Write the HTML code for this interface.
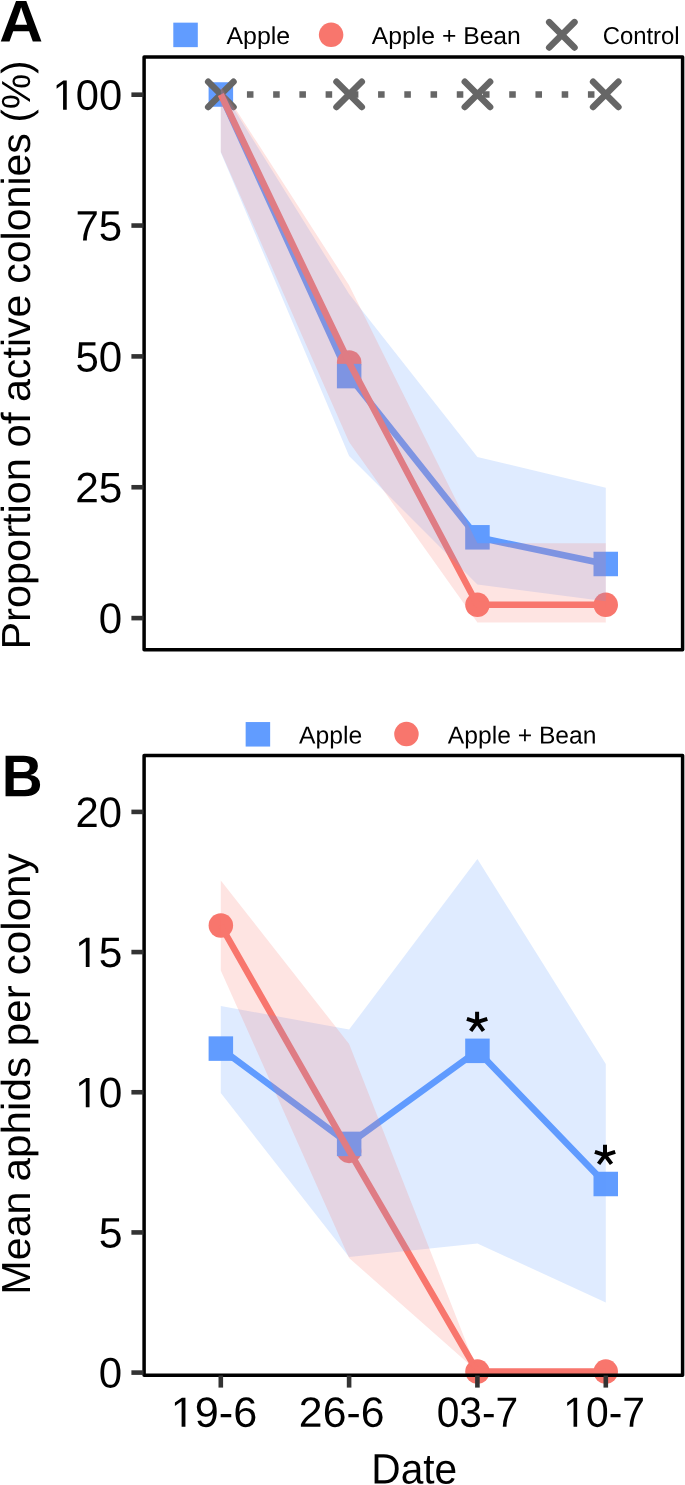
<!DOCTYPE html><html><head><meta charset="utf-8"><title>Figure</title>
<style>html,body{margin:0;padding:0;background:#fff;}svg{display:block;will-change:transform;}text{font-family:"Liberation Sans",sans-serif;fill:#000;text-rendering:geometricPrecision;}</style></head><body>
<svg width="685" height="1485" viewBox="0 0 685 1485">
<rect width="685" height="1485" fill="#fff"/>
<path d="M220.7,94.50 L605.75,94.50" stroke="#666666" stroke-width="6.5" stroke-dasharray="6.55 19.68" fill="none"/>
<path d="M220.8,94.5 L349.1,376.1 L477.4,537.3 L605.8,564.0" fill="none" stroke="#619CFF" stroke-width="6.5" stroke-linejoin="round"/>
<circle cx="349.15" cy="362.48" r="12.25" fill="#F8766D"/>
<circle cx="477.45" cy="604.81" r="12.25" fill="#F8766D"/>
<circle cx="605.75" cy="604.81" r="12.25" fill="#F8766D"/>
<rect x="208.60" y="82.25" width="24.5" height="24.5" fill="#619CFF"/>
<rect x="336.90" y="363.84" width="24.5" height="24.5" fill="#619CFF"/>
<rect x="465.20" y="525.05" width="24.5" height="24.5" fill="#619CFF"/>
<rect x="593.50" y="551.74" width="24.5" height="24.5" fill="#619CFF"/>
<path d="M208.20,81.75 L233.50,107.05 M208.20,107.05 L233.50,81.75" stroke="#666666" stroke-width="6.5" stroke-linecap="round" fill="none"/>
<path d="M336.50,81.75 L361.80,107.05 M336.50,107.05 L361.80,81.75" stroke="#666666" stroke-width="6.5" stroke-linecap="round" fill="none"/>
<path d="M464.80,81.75 L490.10,107.05 M464.80,107.05 L490.10,81.75" stroke="#666666" stroke-width="6.5" stroke-linecap="round" fill="none"/>
<path d="M593.10,81.75 L618.40,107.05 M593.10,107.05 L618.40,81.75" stroke="#666666" stroke-width="6.5" stroke-linecap="round" fill="none"/>
<path d="M220.8,94.5 L349.1,362.5 L477.4,604.8 L605.8,604.8" fill="none" stroke="#F8766D" stroke-width="6.5" stroke-linejoin="round"/>
<path d="M220.8,88.0 L349.1,294.0 L477.4,456.9 L605.8,487.8 L605.8,601.3 L477.4,584.5 L349.1,455.9 L220.8,152.6Z" fill="#619CFF" fill-opacity="0.2"/>
<path d="M220.8,86.0 L349.1,285.3 L477.4,543.2 L605.8,543.2 L605.8,622.4 L477.4,622.4 L349.1,442.0 L220.8,151.7Z" fill="#F8766D" fill-opacity="0.2"/>
<rect x="144.1" y="57.1" width="538.5" height="592.6" fill="none" stroke="#000" stroke-width="3.5" stroke-linejoin="round"/>
<path d="M131.4,618.10 H143.5" stroke="#333" stroke-width="4.6"/>
<path d="M131.4,487.25 H143.5" stroke="#333" stroke-width="4.6"/>
<path d="M131.4,356.40 H143.5" stroke="#333" stroke-width="4.6"/>
<path d="M131.4,225.55 H143.5" stroke="#333" stroke-width="4.6"/>
<path d="M131.4,94.70 H143.5" stroke="#333" stroke-width="4.6"/>
<text transform="translate(98.867,633.119) rotate(0.03) scale(0.9999,1.0123)" font-size="42">0</text>
<text transform="translate(75.131,502.269) rotate(0.03) scale(1.0102,1.0123)" font-size="42">25</text>
<text transform="translate(75.445,371.419) rotate(0.03) scale(1.0012,1.0123)" font-size="42">50</text>
<text transform="translate(75.487,240.569) rotate(0.03) scale(0.9998,1.0123)" font-size="42">75</text>
<g transform="translate(52.591,109.719) rotate(0.03) scale(0.9914,1.0123)"><path transform="translate(0.000,0) scale(0.02051,-0.02051)" d="M515,0V1237L197,1010V1180L530,1409H696V0Z"/><text x="23.358" font-size="42">0</text><text x="46.717" font-size="42">0</text></g>
<rect x="173.30" y="22.65" width="24.5" height="24.5" fill="#619CFF"/>
<text transform="translate(226.441,43.931) rotate(0.03) scale(1.0162,0.9974)" font-size="24.5">Apple</text>
<circle cx="331.10" cy="34.85" r="12.25" fill="#F8766D"/>
<text transform="translate(371.859,43.931) rotate(0.03) scale(1.0080,0.9974)" font-size="24.5">Apple + Bean</text>
<path d="M549.20,22.15 L574.50,47.45 M549.20,47.45 L574.50,22.15" stroke="#666666" stroke-width="6.5" stroke-linecap="round" fill="none"/>
<text transform="translate(602.629,43.931) rotate(0.03) scale(0.9751,0.9974)" font-size="24.5">Control</text>
<text transform="translate(-0.863,41.614) rotate(0.03) scale(1.0735,1.0452)" font-size="56.5" font-weight="bold">A</text>
<text transform="translate(30.400,649.575) rotate(-90) scale(1.0125,0.9900)" font-size="41">Proportion</text>
<text transform="translate(30.400,447.439) rotate(-90) scale(1.0249,0.9900)" font-size="41">of</text>
<text transform="translate(30.400,402.019) rotate(-90) scale(1.0039,0.9900)" font-size="41">active</text>
<text transform="translate(30.400,283.780) rotate(-90) scale(1.0015,0.9900)" font-size="41">colonies</text>
<text transform="translate(30.400,122.606) rotate(-90) scale(0.9736,0.9900)" font-size="41">(%)</text>
<path d="M220.8,1048.6 L349.1,1143.9 L477.4,1050.8 L605.8,1184.0" fill="none" stroke="#619CFF" stroke-width="6.5" stroke-linejoin="round"/>
<circle cx="220.85" cy="925.52" r="12.25" fill="#F8766D"/>
<circle cx="349.15" cy="1150.92" r="12.25" fill="#F8766D"/>
<circle cx="477.45" cy="1371.56" r="12.25" fill="#F8766D"/>
<circle cx="605.75" cy="1371.56" r="12.25" fill="#F8766D"/>
<rect x="208.60" y="1036.35" width="24.5" height="24.5" fill="#619CFF"/>
<rect x="336.90" y="1131.66" width="24.5" height="24.5" fill="#619CFF"/>
<rect x="465.20" y="1038.59" width="24.5" height="24.5" fill="#619CFF"/>
<rect x="593.50" y="1171.75" width="24.5" height="24.5" fill="#619CFF"/>
<path d="M220.8,925.5 L349.1,1150.9 L477.4,1371.6 L605.8,1371.6" fill="none" stroke="#F8766D" stroke-width="6.5" stroke-linejoin="round"/>
<path d="M220.8,1006.0 L349.1,1029.6 L477.4,859.0 L605.8,1064.0 L605.8,1302.5 L477.4,1243.4 L349.1,1257.0 L220.8,1093.0Z" fill="#619CFF" fill-opacity="0.2"/>
<path d="M220.8,880.4 L349.1,1043.9 L477.4,1371.0 L605.8,1371.0 L605.8,1371.5 L477.4,1371.5 L349.1,1258.0 L220.8,970.4Z" fill="#F8766D" fill-opacity="0.2"/>
<rect x="144.1" y="755.6" width="538.5" height="619.6" fill="none" stroke="#000" stroke-width="3.5" stroke-linejoin="round"/>
<path d="M131.4,1372.60 H143.5" stroke="#333" stroke-width="4.6"/>
<path d="M131.4,1232.43 H143.5" stroke="#333" stroke-width="4.6"/>
<path d="M131.4,1092.25 H143.5" stroke="#333" stroke-width="4.6"/>
<path d="M131.4,952.08 H143.5" stroke="#333" stroke-width="4.6"/>
<path d="M131.4,811.90 H143.5" stroke="#333" stroke-width="4.6"/>
<text transform="translate(98.845,1387.619) rotate(0.03) scale(0.9992,1.0123)" font-size="42">0</text>
<text transform="translate(98.681,1247.444) rotate(0.03) scale(1.0188,1.0123)" font-size="42">5</text>
<g transform="translate(75.125,1107.269) rotate(0.03) scale(1.0086,1.0123)"><path transform="translate(0.000,0) scale(0.02051,-0.02051)" d="M515,0V1237L197,1010V1180L530,1409H696V0Z"/><text x="23.358" font-size="42">0</text></g>
<g transform="translate(75.109,967.094) rotate(0.03) scale(1.0109,1.0123)"><path transform="translate(0.000,0) scale(0.02051,-0.02051)" d="M515,0V1237L197,1010V1180L530,1409H696V0Z"/><text x="23.358" font-size="42">5</text></g>
<text transform="translate(75.457,826.919) rotate(0.03) scale(0.9942,1.0123)" font-size="42">20</text>
<path d="M220.8,1375.5 V1387.6" stroke="#333" stroke-width="4.6"/>
<path d="M349.1,1375.5 V1387.6" stroke="#333" stroke-width="4.6"/>
<path d="M477.4,1375.5 V1387.6" stroke="#333" stroke-width="4.6"/>
<path d="M605.8,1375.5 V1387.6" stroke="#333" stroke-width="4.6"/>
<g transform="translate(170.732,1426.830) rotate(0.03) scale(1.0295,1.0058)"><path transform="translate(0.000,0) scale(0.02051,-0.02051)" d="M515,0V1237L197,1010V1180L530,1409H696V0Z"/><text x="23.358" font-size="42">9</text><text x="46.717" font-size="42">-</text><text x="60.703" font-size="42">6</text></g>
<text transform="translate(298.873,1426.830) rotate(0.03) scale(1.0173,1.0058)" font-size="42">26-6</text>
<text transform="translate(436.671,1426.830) rotate(0.03) scale(0.9705,1.0058)" font-size="42">03-7</text>
<g transform="translate(563.275,1426.830) rotate(0.03) scale(0.9714,1.0058)"><path transform="translate(0.000,0) scale(0.02051,-0.02051)" d="M515,0V1237L197,1010V1180L530,1409H696V0Z"/><text x="23.358" font-size="42">0</text><text x="46.717" font-size="42">-</text><text x="60.703" font-size="42">7</text></g>
<text transform="translate(371.306,1483.579) rotate(0.03) scale(0.9679,1.0094)" font-size="42">Date</text>
<path d="M477.1,1022.1 L477.1,1011.7 M477.1,1022.1 L487.3,1018.8 M477.1,1022.1 L466.9,1018.8 M477.1,1022.1 L483.5,1030.9 M477.1,1022.1 L470.7,1030.9 " stroke="#000" stroke-width="4" fill="none"/>
<path d="M605.0,1155.1 L605.0,1144.7 M605.0,1155.1 L615.2,1151.8 M605.0,1155.1 L594.9,1151.8 M605.0,1155.1 L611.5,1163.9 M605.0,1155.1 L598.6,1163.9 " stroke="#000" stroke-width="4" fill="none"/>
<rect x="245.65" y="722.05" width="24.5" height="24.5" fill="#619CFF"/>
<text transform="translate(299.043,743.489) rotate(0.03) scale(1.0086,1.0014)" font-size="24.5">Apple</text>
<circle cx="406.45" cy="734.10" r="12.25" fill="#F8766D"/>
<text transform="translate(447.793,743.489) rotate(0.03) scale(1.0061,1.0014)" font-size="24.5">Apple + Bean</text>
<text transform="translate(1.814,796.362) rotate(0.03) scale(1.0034,1.0429)" font-size="56.5" font-weight="bold">B</text>
<text transform="translate(30.400,1294.666) rotate(-90) scale(1.0066,0.9900)" font-size="41">Mean</text>
<text transform="translate(30.400,1181.533) rotate(-90) scale(1.0313,0.9900)" font-size="41">aphids</text>
<text transform="translate(30.400,1046.198) rotate(-90) scale(1.0281,0.9900)" font-size="41">per</text>
<text transform="translate(30.400,975.199) rotate(-90) scale(1.0277,0.9900)" font-size="41">colony</text>
</svg></body></html>
